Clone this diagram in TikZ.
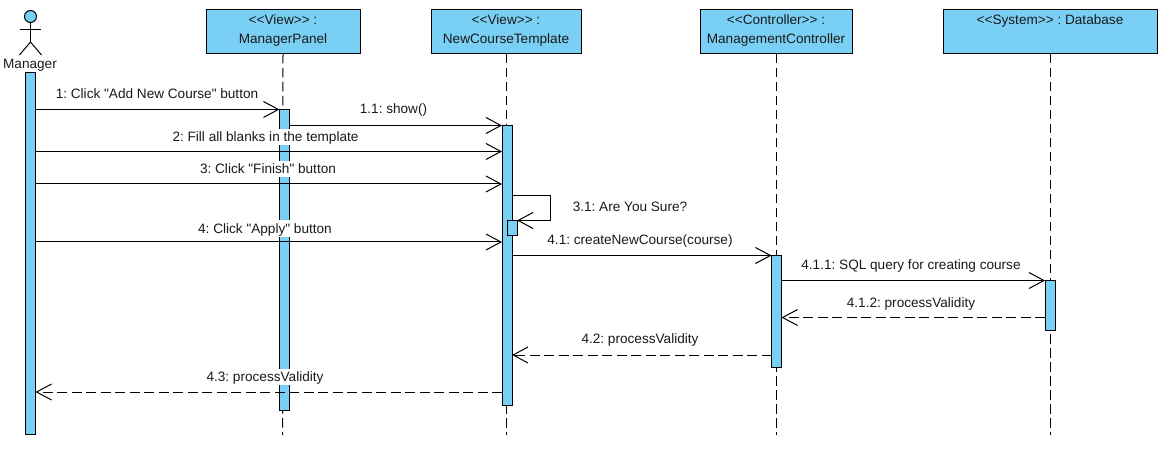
\documentclass[tikz,border=0pt]{standalone}
\usepackage{fontspec}
\newfontfamily\uifont{Liberation Sans}
\usetikzlibrary{arrows.meta}
\definecolor{umlblue}{HTML}{7ACFF5}
\definecolor{umlink}{HTML}{1A1A1A}
\tikzset{
  x=1pt,y=-1pt,
  every node/.style={font=\uifont\fontsize{13.6}{16}\selectfont\frenchspacing,text=umlink,inner sep=0pt,outer sep=0pt,text height=11.5pt,text depth=2pt},
  head/.style={draw=black,line width=1pt,fill=umlblue,anchor=north west,align=center},
  bar/.style={draw=black,line width=1pt,fill=umlblue,anchor=north,minimum width=10pt},
  lifeline/.style={line width=1pt,dash pattern=on 9.5pt off 4.5pt},
  msg/.style={line width=1pt,-{Straight Barb[length=15pt,width=16pt,line width=1pt]}},
  ret/.style={msg,dash pattern=on 10pt off 4.5pt},
  lab/.style={fill=white,inner xsep=1pt,inner ysep=1.5pt},
  limb/.style={line width=1pt}
}
\newcommand{\headbox}[5]{\node[head,minimum width=#3pt,minimum height=44pt] (#1) at (#2,10) {};
  \node (#1a) at (#2+#3/2,20) {#4};
  \node (#1b) at (#2+#3/2,39) {#5};}
\begin{document}
\begin{tikzpicture}
\useasboundingbox (0,0) rectangle (1168,449);
% heads
\headbox{mp}{206}{154}{<{}<View>{}> :}{ManagerPanel}
\headbox{nc}{431}{150}{<{}<View>{}> :}{NewCourseTemplate}
\headbox{mc}{700}{152}{<{}<Controller>{}> :}{ManagementController}
\node[head,minimum width=214pt,minimum height=44pt] (db) at (943,10) {};
\node (dba) at (1050,20) {<{}<System>{}> : Database};
% lifeline ends
\coordinate (mpend) at (282.5,435);
\coordinate (ncend) at (506,435);
\coordinate (mcend) at (776,435);
\coordinate (dbend) at (1050,435);
\draw[lifeline] (mp.south) -- (mpend);
\draw[lifeline] (nc.south) -- (ncend);
\draw[lifeline] (mc.south) -- (mcend);
\draw[lifeline] (db.south) -- (dbend);
% actor
\node[draw=black,line width=1pt,fill=umlblue,circle,minimum size=12pt,text height=0pt,text depth=0pt] (acthead) at (30.5,16.5) {};
\coordinate (hip) at (30.5,42);
\coordinate (armL) at (20,30);
\coordinate (armR) at (41,30);
\coordinate (legL) at (19.5,55);
\coordinate (legR) at (41.5,55);
\draw[limb] (acthead.south) -- (hip);
\draw[limb] (armL) -- (armR);
\draw[limb] (legL) -- (hip) -- (legR);
\node (actlabel) at (30,64) {Manager};
% activation bars
\node[bar,minimum height=361.5pt] (mgr) at (30.5,72.5) {};
\node[bar,minimum height=300.5pt] (mpb) at (284.5,109.5) {};
\node[bar,minimum height=280pt] (ncb) at (507,125.5) {};
\node[bar,minimum height=15pt] (ncs) at (512,220.5) {};
\node[bar,minimum height=112pt] (mcb) at (776.5,255.5) {};
\node[bar,minimum height=50pt] (dbb) at (1050,280.5) {};
% messages
\draw[msg] (mgr.east |- 0,109.5) -- (mpb.west |- 0,109.5);
\draw[msg] (mpb.east |- 0,125.5) -- (ncb.west |- 0,125.5);
\draw[msg] (mgr.east |- 0,151.5) -- (ncb.west |- 0,151.5);
\draw[msg] (mgr.east |- 0,184) -- (ncb.west |- 0,184);
\coordinate (selfa) at (550.5,195.5);
\coordinate (selfb) at (550.5,220.5);
\draw[msg] (ncb.east |- selfa) -- (selfa) -- (selfb) -- (ncs.east |- selfb);
\draw[msg] (mgr.east |- 0,242) -- (ncb.west |- 0,242);
\draw[msg] (ncb.east |- 0,255.5) -- (mcb.west |- 0,255.5);
\draw[msg] (mcb.east |- 0,280.5) -- (dbb.west |- 0,280.5);
\draw[ret] (dbb.west |- 0,317.5) -- (mcb.east |- 0,317.5);
\draw[ret] (mcb.west |- 0,355) -- (ncb.east |- 0,355);
\draw[ret] (ncb.west |- 0,392) -- (mgr.east |- 0,392);
% labels
\node[lab] (m1) at (157,94) {1: Click "Add New Course" button};
\node[lab] (m11) at (393.5,109) {1.1: show()};
\node[lab] (m2) at (265.5,137) {2: Fill all blanks in the template};
\node[lab] (m3) at (268,169) {3: Click "Finish" button};
\node[lab] (m31) at (630,207) {3.1: Are You Sure?};
\node[lab] (m4) at (265,228.5) {4: Click "Apply" button};
\node[lab] (m41) at (640,240) {4.1: createNewCourse(course)};
\node[lab] (m411) at (911,265) {4.1.1: SQL query for creating course};
\node[lab] (m412) at (911,303) {4.1.2: processValidity};
\node[lab] (m42) at (640,339) {4.2: processValidity};
\node[lab] (m43) at (265,377) {4.3: processValidity};
\end{tikzpicture}
\end{document}
